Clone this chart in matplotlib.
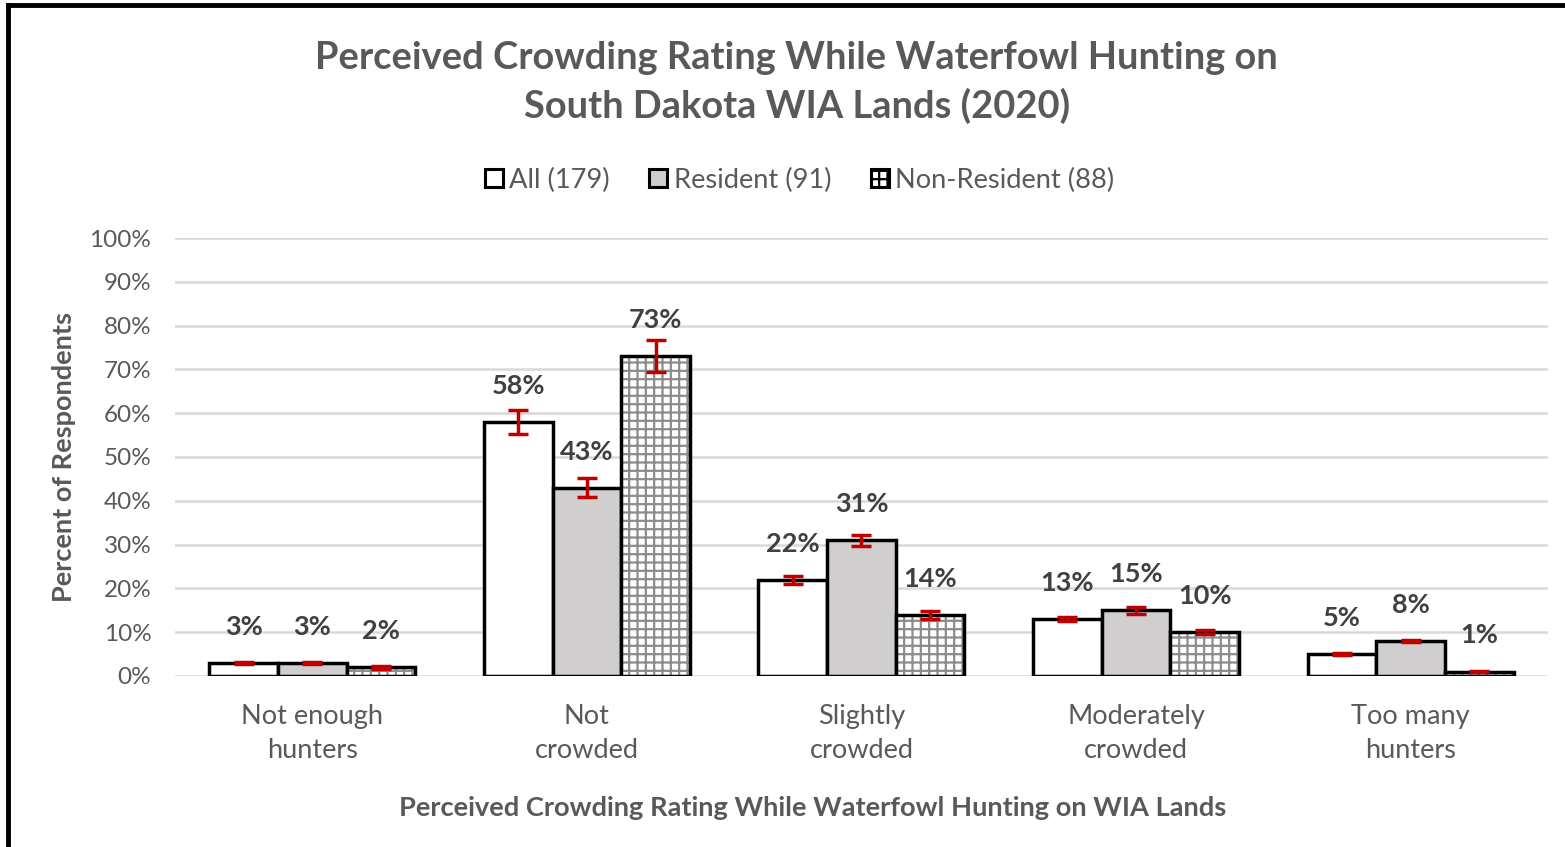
import matplotlib.pyplot as plt
import numpy as np

plt.rcParams['font.family'] = ['Lato', 'DejaVu Sans']
plt.rcParams['hatch.linewidth'] = 1.6

categories = ["Not enough\nhunters", "Not\ncrowded", "Slightly\ncrowded",
              "Moderately\ncrowded", "Too many\nhunters"]
series_names = ["All (179)", "Resident (91)", "Non-Resident (88)"]
all_vals = [3, 58, 22, 13, 5]
res_vals = [3, 43, 31, 15, 8]
non_vals = [2, 73, 14, 10, 1]
all_err = [0.3, 2.8, 0.9, 0.5, 0.3]
res_err = [0.3, 2.2, 1.3, 0.8, 0.3]
non_err = [0.3, 3.6, 0.9, 0.5, 0.2]

TEXT = "#595959"
LABEL = "#404040"
RED = "#c00000"

fig = plt.figure(figsize=(15.65, 8.47), dpi=100)
ax = fig.add_axes([0.1118, 0.2019, 0.8773, 0.5171])

x = np.arange(len(categories))
w = 0.25
fills = ["white", "#d0cece", "white"]
hatches = [None, None, "++"]

handles = []
for i, (vals, errs, name) in enumerate(zip([all_vals, res_vals, non_vals],
                                            [all_err, res_err, non_err],
                                            series_names)):
    xs = x + (i - 1) * w
    if hatches[i]:
        # hatch drawn in gray, outline drawn separately in black
        ax.bar(xs, vals, width=w, facecolor=fills[i], hatch=hatches[i],
               edgecolor="#8c8c8c", linewidth=0, zorder=3)
        ax.bar(xs, vals, width=w, facecolor="none", edgecolor="black",
               linewidth=2.5, zorder=3)
    else:
        ax.bar(xs, vals, width=w, facecolor=fills[i], edgecolor="black",
               linewidth=2.5, zorder=3)
    handles.append(plt.Rectangle((0, 0), 1, 1, facecolor=fills[i], hatch=hatches[i],
                                 edgecolor="black", linewidth=2.2, label=name))
    ax.errorbar(xs, vals, yerr=errs, fmt="none", ecolor=RED, elinewidth=2.5,
                capsize=7, capthick=2.5, zorder=4)
    for xi, v in zip(xs, vals):
        ax.annotate(f"{v}%", (xi, v), xytext=(0, 26), textcoords="offset points",
                    ha="center", va="center", fontsize=19.5, fontweight="bold",
                    color=LABEL, zorder=5)

ax.set_xlim(-0.5, 4.5)
ax.set_ylim(0, 100)
ax.set_yticks(np.arange(0, 101, 10))
ax.set_yticklabels([f"{t}%" for t in range(0, 101, 10)], fontsize=17.5, color=TEXT)
ax.set_xticks(x)
ax.set_xticklabels(categories, fontsize=19.5, color=TEXT, linespacing=1.45)
ax.tick_params(axis="both", length=0)
ax.tick_params(axis="x", pad=20)
ax.tick_params(axis="y", pad=17)
ax.grid(axis="y", color="#d9d9d9", linewidth=1.8, zorder=0)
for s in ax.spines.values():
    s.set_visible(False)

ax.set_ylabel("Percent of Respondents", fontsize=19.5, fontweight="bold",
              color=TEXT, labelpad=10)

fig.text(0.509, 0.9025, "Perceived Crowding Rating While Waterfowl Hunting on\nSouth Dakota WIA Lands (2020)",
         ha="center", va="center", fontsize=27.4, fontweight="bold", color=TEXT,
         linespacing=1.4)
fig.text(0.519, 0.046, "Perceived Crowding Rating While Waterfowl Hunting on WIA Lands",
         ha="center", va="center", fontsize=19.6, fontweight="bold", color=TEXT)

leg = fig.legend(handles=handles, loc="center", bbox_to_anchor=(0.511, 0.787), ncol=3,
                 frameon=False, fontsize=19.6, handlelength=0.65, handleheight=0.65,
                 handletextpad=0.25, columnspacing=1.45)
for t in leg.get_texts():
    t.set_color(TEXT)

# chart border (left and top only visible)
fig.add_artist(plt.Line2D([0.0054, 0.0054], [0.0, 0.9941], color="black",
                          linewidth=3.5, transform=fig.transFigure))
fig.add_artist(plt.Line2D([0.0054, 1.0], [0.9941, 0.9941], color="black",
                          linewidth=3.5, transform=fig.transFigure))

plt.savefig("out.png", dpi=100)
